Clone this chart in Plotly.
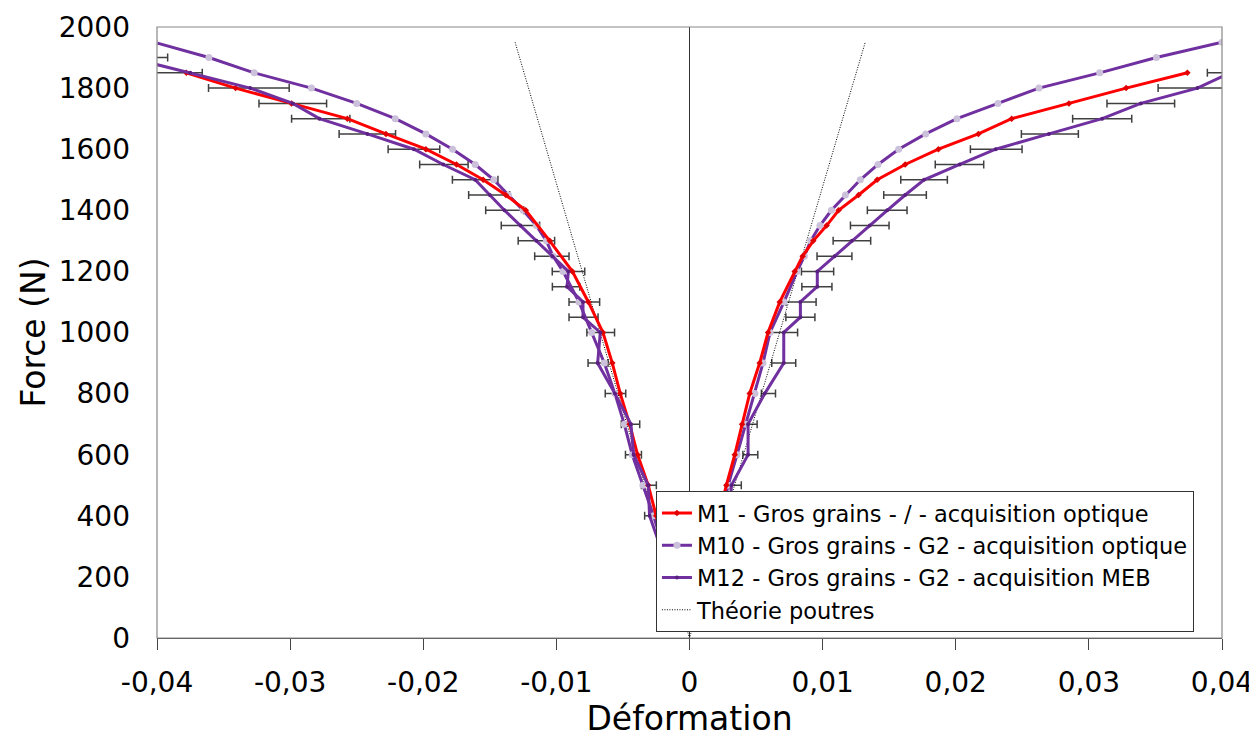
import plotly.graph_objects as go

# ---------------- data ----------------
# M1 - Gros grains - / - acquisition optique
m1_force = [1850, 1800, 1750, 1700, 1650, 1600, 1550, 1500, 1450, 1400, 1300, 1200, 1100, 1000,
            900, 800, 700, 600, 500, 400, 300,
            400, 500, 600, 700, 800, 900, 1000, 1100, 1200, 1250, 1300, 1350, 1400, 1450,
            1500, 1550, 1600, 1650, 1700, 1750, 1800, 1850]
m1_strain = [-0.0378, -0.0341, -0.0299, -0.0257, -0.0228, -0.0198, -0.0175, -0.0155, -0.0138, -0.0123,
             -0.0105, -0.0088, -0.0076, -0.0065, -0.0058, -0.0052, -0.0045, -0.0039, -0.0031, -0.0025, -0.0019,
             0.0022, 0.00277, 0.0034, 0.00395, 0.00452, 0.00527, 0.0059, 0.00678, 0.0079, 0.0085, 0.0093,
             0.0103, 0.0112, 0.0127, 0.0141, 0.0162, 0.0187, 0.0217, 0.0242, 0.0285, 0.0328, 0.0374]

# M10 - Gros grains - G2 - acquisition optique
m10_force = [1950, 1900, 1850, 1800, 1750, 1700, 1650, 1600, 1550, 1500, 1450, 1400, 1350, 1300, 1250,
             1200, 1100, 1000, 900, 800, 700, 600, 500, 400, 300,
             300, 400, 500, 600, 700, 800, 900, 1000, 1100, 1200, 1250, 1300, 1350, 1400, 1450,
             1500, 1550, 1600, 1650, 1700, 1750, 1800, 1850, 1900, 1950]
m10_strain = [-0.0402, -0.0361, -0.0327, -0.0284, -0.0250, -0.0221, -0.0198, -0.0178, -0.0161, -0.0147,
              -0.0136, -0.0125, -0.0115, -0.01075, -0.01025, -0.0095, -0.0083, -0.00735, -0.0064, -0.0056,
              -0.0049, -0.0043, -0.0035, -0.0027, -0.0020,
              0.0019, 0.0024, 0.0029, 0.00357, 0.00422, 0.00492, 0.00552, 0.00605, 0.0071, 0.00808,
              0.00863, 0.0091, 0.0098, 0.01066, 0.01171, 0.01283, 0.01416, 0.01571, 0.01774, 0.02009,
              0.02317, 0.02625, 0.03081, 0.03507, 0.0400]

# M12 - Gros grains - G2 - acquisition MEB
m12_force = [1900, 1850, 1800, 1750, 1700, 1650, 1600, 1550, 1500, 1450, 1400, 1350, 1300, 1250,
             1200, 1150, 1100, 1050, 1000, 900, 800, 700, 600, 500, 400, 300,
             300, 400, 500, 600, 700, 800, 900, 1000, 1050, 1100, 1150, 1200, 1250, 1300, 1350,
             1400, 1450, 1500, 1550, 1600, 1650, 1700, 1750, 1800, 1850]
m12_strain = [-0.0421, -0.0375, -0.0330, -0.0298, -0.0278, -0.0242, -0.0207, -0.0185, -0.0161, -0.0150,
              -0.0139, -0.0127, -0.0115, -0.0103, -0.0091, -0.0092, -0.0080, -0.0080, -0.0067, -0.0069,
              -0.0056, -0.0044, -0.0042, -0.0031, -0.0030, -0.0022,
              0.0026, 0.0030, 0.00315, 0.0044, 0.0044, 0.00565, 0.00708, 0.00708, 0.00833, 0.00833,
              0.0096, 0.0096, 0.0109, 0.0122, 0.01354, 0.01485, 0.0162, 0.01762, 0.0203, 0.0230,
              0.0270, 0.0310, 0.0339, 0.03815, 0.0406]

# Error bars (horizontal) : centre and half-width
err_force = [1900, 1850, 1800, 1750, 1700, 1650, 1600, 1550, 1500, 1450, 1400, 1350, 1300, 1250,
             1200, 1150, 1100, 1050, 1000, 900, 800, 700, 600, 500, 400,
             400, 500, 600, 700, 800, 900, 1000, 1050, 1100, 1150, 1200, 1250, 1300, 1350,
             1400, 1450, 1500, 1550, 1600, 1650, 1700, 1750, 1800, 1850]
err_center = [-0.0428, -0.0399, -0.0331, -0.0298, -0.0277, -0.0242, -0.0207, -0.01845, -0.0161, -0.01505,
              -0.01388, -0.0127, -0.0115, -0.01034, -0.00909, -0.00927, -0.0079, -0.00796, -0.00667,
              -0.00687, -0.00556, -0.00443, -0.00421, -0.00305, -0.00299,
              0.0031, 0.00345, 0.00457, 0.00455, 0.00593, 0.00708, 0.00708, 0.00833, 0.00838, 0.00957,
              0.00962, 0.01089, 0.0122, 0.01354, 0.01485, 0.01619, 0.01762, 0.02028, 0.02304, 0.02707,
              0.0310, 0.0339, 0.0382, 0.0422]
err_half = [0.0036, 0.0033, 0.00303, 0.00254, 0.00219, 0.00212, 0.00194, 0.00182, 0.00171, 0.00154,
            0.00143, 0.00144, 0.00137, 0.00129, 0.00122, 0.00103, 0.00115, 0.00109, 0.00104,
            0.00075, 0.00077, 0.00069, 0.0006, 0.00056, 0.00038,
            0.0004, 0.00044, 0.00056, 0.00053, 0.00053, 0.0009, 0.00104, 0.00109, 0.00113, 0.00113,
            0.00121, 0.00131, 0.00141, 0.00145, 0.00149, 0.0016, 0.00175, 0.00182, 0.00194, 0.00214,
            0.00222, 0.00254, 0.0030, 0.0033]

# Théorie poutres
theo_force = [1950, 0, 1950]
theo_strain = [-0.0131, 0, 0.0132]

x_ticks = [-0.04, -0.03, -0.02, -0.01, 0, 0.01, 0.02, 0.03, 0.04]
x_ticktext = ["-0,04", "-0,03", "-0,02", "-0,01", "0", "0,01", "0,02", "0,03", "0,04"]
y_ticks = [0, 200, 400, 600, 800, 1000, 1200, 1400, 1600, 1800, 2000]

names = ["M1 - Gros grains - / - acquisition optique",
         "M10 - Gros grains - G2 - acquisition optique",
         "M12 - Gros grains - G2 - acquisition MEB",
         "Théorie poutres"]

PURPLE = "#7030A0"
LAVENDER = "#CCC1DA"
FONT = "DejaVu Sans"

fig = go.Figure()

# error bars (no legend)
fig.add_trace(go.Scatter(
    x=err_center, y=err_force, mode="markers", showlegend=False, hoverinfo="skip",
    marker=dict(size=1, color="rgba(0,0,0,0)"),
    error_x=dict(type="data", array=err_half, symmetric=True, color="#404040",
                 thickness=1.5, width=4)))

fig.add_trace(go.Scatter(
    x=theo_strain, y=theo_force, mode="lines", name=names[3], legendrank=4,
    line=dict(color="black", width=1, dash="1px,1.5px")))

fig.add_trace(go.Scatter(
    x=m10_strain, y=m10_force, mode="lines+markers", name=names[1], legendrank=2,
    line=dict(color=PURPLE, width=3),
    marker=dict(color=LAVENDER, size=7, symbol="circle")))

fig.add_trace(go.Scatter(
    x=m1_strain, y=m1_force, mode="lines+markers", name=names[0], legendrank=1,
    line=dict(color="#FF0000", width=3),
    marker=dict(color="#E00000", size=5, symbol="diamond")))

fig.add_trace(go.Scatter(
    x=m12_strain, y=m12_force, mode="lines+markers", name=names[2], legendrank=3,
    line=dict(color=PURPLE, width=3),
    marker=dict(color="#5A2080", size=4, symbol="circle")))

fig.update_layout(
    width=1249, height=737,
    margin=dict(l=149, r=35, t=19, b=107),
    paper_bgcolor="white", plot_bgcolor="white",
    font=dict(family=FONT, color="black"),
    showlegend=True,
    legend=dict(x=0.4685, y=0.01, xanchor="left", yanchor="bottom",
                bgcolor="white", bordercolor="#333333", borderwidth=1,
                font=dict(size=22.5, family=FONT), tracegroupgap=0),
    xaxis=dict(range=[-0.04, 0.04], tickvals=x_ticks, ticktext=x_ticktext, automargin=False,
               showgrid=False, zeroline=True, zerolinecolor="#333333", zerolinewidth=1,
               showline=True, linecolor="#444444", linewidth=1,
               ticks="outside", ticklen=11, tickcolor="#444444", tickwidth=1,
               tickfont=dict(size=28, family=FONT), ticklabelstandoff=8,
               title=dict(text="Déformation", font=dict(size=33, family=FONT), standoff=6)),
    yaxis=dict(range=[0, 2000], tickvals=y_ticks, automargin=False,
               showgrid=False, zeroline=False, showline=False,
               ticks="", tickfont=dict(size=28, family=FONT), ticklabelstandoff=26,
               title=dict(text="Force (N)", font=dict(size=33, family=FONT), standoff=3)),
    shapes=[dict(type="rect", xref="paper", yref="paper", x0=0, y0=0, x1=1, y1=1,
                 line=dict(color="#888888", width=1.2), layer="above")],
)

fig.write_html("out.html")
